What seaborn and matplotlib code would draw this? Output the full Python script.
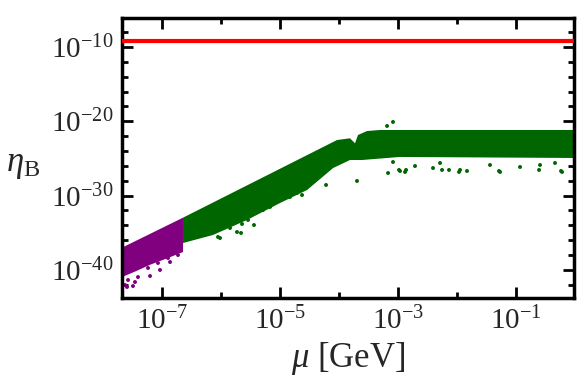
import numpy as np
import pandas as pd
import matplotlib
matplotlib.use('Agg')
import matplotlib.pyplot as plt
import matplotlib.ticker as mticker
import seaborn as sns

# observed baryon asymmetry
eta_obs = 6.1e-10

# band edges, as log10 values
purple_up_logmu = [-7.72, -6.644]
purple_up_logeta = [-37.17, -32.97]
purple_low_logmu = [-6.644, -6.90, -7.20, -7.45, -7.72]
purple_low_logeta = [-37.59, -38.40, -39.30, -40.20, -41.10]

green_up_logmu = [-6.644, -4.034, -3.814, -3.729, -3.678, -3.525, -3.305, 0.05]
green_up_logeta = [-32.97, -22.52, -22.29, -22.96, -21.84, -21.31, -21.17, -21.17]
green_low_logmu = [0.05, -2.97, -3.61, -3.814, -4.10, -4.542, -5.0, -5.559, -6.136, -6.644]
green_low_logeta = [-24.94, -24.80, -25.21, -25.21, -26.29, -29.25, -31.0, -33.28, -35.30, -36.38]

# scattered points below the dense bands
green_dot_logmu = [-6.051, -5.729, -5.661, -5.644, -5.441, -4.627, -4.220, -3.695,
                   -3.169, -2.966, -2.864, -2.254, -2.136, -1.966, -1.831, -1.288,
                   -0.610, -0.237, -3.186, -3.085,
                   -3.085, -2.881, -2.983, -2.712, -2.407, -2.288, -1.949, -1.441,
                   -1.271, -0.932, -0.593, -0.339, -0.220,
                   -6.017, -5.847, -5.542, -5.288, -5.169, -4.831, -4.712]
green_dot_logeta = [-35.57, -34.90, -35.03, -33.82, -33.96, -29.92, -28.57, -28.03,
                    -26.96, -26.69, -26.55, -26.55, -26.55, -26.82, -26.69, -26.69,
                    -26.55, -26.69, -20.63, -20.09,
                    -25.48, -26.82, -26.55, -26.02, -26.29, -25.61, -26.55, -25.88,
                    -26.82, -26.15, -25.88, -25.61, -26.82,
                    -35.71, -34.36, -33.28, -31.94, -31.53, -30.19, -29.65]
purple_dot_logmu = [-7.627, -7.593, -7.492, -7.576, -7.458, -7.203, -7.034, -6.864,
                    -7.407, -7.237, -7.068, -6.898, -6.729]
purple_dot_logeta = [-42.03, -42.30, -42.17, -41.36, -41.63, -40.82, -40.01, -38.94,
                     -40.96, -39.74, -39.07, -38.40, -38.00]

PURPLE = '#800080'
GREEN = '#006600'

sns.set_style('ticks')
plt.rcParams['font.family'] = ['Liberation Serif', 'DejaVu Serif']
plt.rcParams['mathtext.fontset'] = 'custom'
plt.rcParams['mathtext.rm'] = 'Liberation Serif'
plt.rcParams['mathtext.it'] = 'Liberation Serif:italic'
plt.rcParams['mathtext.bf'] = 'Liberation Serif:bold'

fig = plt.figure(figsize=(5.81, 3.92), dpi=100)
ax = fig.add_axes([0.21, 0.2398, 0.778, 0.7143])

ax.fill(10 ** np.array(purple_up_logmu + purple_low_logmu),
        10 ** np.array(purple_up_logeta + purple_low_logeta),
        color=PURPLE, lw=0)
ax.fill(10 ** np.array(green_up_logmu + green_low_logmu),
        10 ** np.array(green_up_logeta + green_low_logeta),
        color=GREEN, lw=0)

dots = pd.DataFrame({
    'mu': 10 ** np.array(green_dot_logmu + purple_dot_logmu),
    'eta': 10 ** np.array(green_dot_logeta + purple_dot_logeta),
    'set': ['g'] * len(green_dot_logmu) + ['p'] * len(purple_dot_logmu),
})
sns.scatterplot(data=dots, x='mu', y='eta', hue='set',
                palette={'g': GREEN, 'p': PURPLE}, s=8, linewidth=0,
                legend=False, ax=ax)

ax.axhline(eta_obs, color='#ff0000', lw=3, zorder=5)

ax.set_xscale('log')
ax.set_yscale('log')
ax.set_xlim(10 ** -7.678, 10 ** -0.017)
ax.set_ylim(10 ** -43.78, 10 ** -6.10)

ax.xaxis.set_major_locator(mticker.FixedLocator([1e-7, 1e-5, 1e-3, 1e-1]))
ax.xaxis.set_minor_locator(mticker.FixedLocator([1e-6, 1e-4, 1e-2, 1e0]))
ax.yaxis.set_major_locator(mticker.FixedLocator([1e-40, 1e-30, 1e-20, 1e-10]))
ax.yaxis.set_minor_locator(mticker.FixedLocator(
    [10.0 ** e for e in range(-44, -5, 2) if e % 10 != 0]))
ax.xaxis.set_major_formatter(mticker.LogFormatterMathtext())
ax.yaxis.set_major_formatter(mticker.LogFormatterMathtext())
ax.xaxis.set_minor_formatter(mticker.NullFormatter())
ax.yaxis.set_minor_formatter(mticker.NullFormatter())

ax.tick_params(which='both', direction='in', top=True, right=True,
               color='black', width=2, labelsize=21)
ax.tick_params(which='major', length=8, pad=6)
ax.tick_params(which='minor', length=4.5)
for sp in ax.spines.values():
    sp.set_linewidth(2.5)
    sp.set_color('black')

ax.set_xlabel(r'$\mu$ [GeV]', fontsize=25, labelpad=4)
ax.set_ylabel(r'$\eta_{\mathrm{B}}$', fontsize=25, rotation=0,
              ha='center', va='center')
ax.yaxis.set_label_coords(-0.218, 0.475)

fig.savefig('out.png', dpi=100)
